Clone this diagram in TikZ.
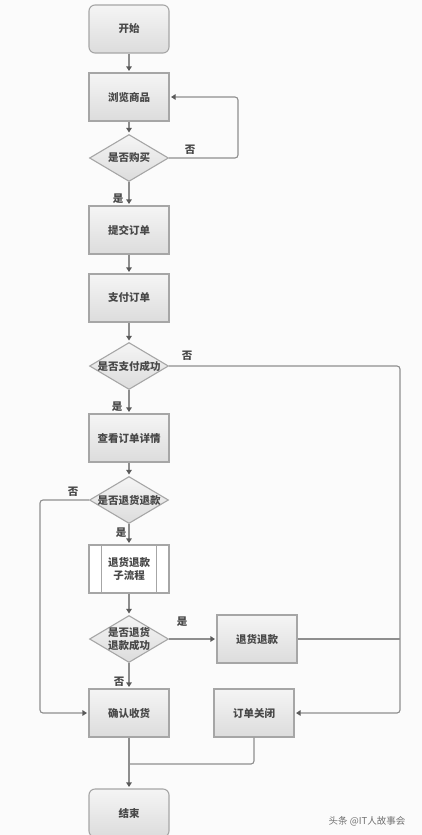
\documentclass[tikz,border=0pt]{standalone}
\usepackage{fontspec}
\setmainfont{Noto Sans CJK SC}
\usetikzlibrary{shapes.geometric,arrows.meta}
\definecolor{bg}{HTML}{FBFBFB}
\definecolor{boxline}{HTML}{A6A6A6}
\definecolor{boxtop}{HTML}{F5F5F5}
\definecolor{boxbot}{HTML}{DCDCDC}
\definecolor{linec}{HTML}{8E8E8E}
\definecolor{tipc}{HTML}{5A5A5A}
\definecolor{txt}{HTML}{484848}
\definecolor{wm}{HTML}{707070}
\begin{document}
\begin{tikzpicture}[x=1pt,y=-1pt,
  box/.style={draw=boxline, line width=1.1pt, top color=boxtop, bottom color=boxbot,
    minimum width=80pt, minimum height=48pt, inner sep=0pt,
    font=\fontsize{10.5}{13.5}\selectfont\bfseries, text=txt, align=center},
  term/.style={box, rounded corners=6pt},
  subp/.style={box, top color=white, bottom color=white},
  dia/.style={diamond, draw=boxline, line width=1.1pt, top color=boxtop, bottom color=boxbot,
    minimum width=79pt, minimum height=47pt, inner sep=0pt},
  dtxt/.style={font=\fontsize{10.5}{13.5}\selectfont\bfseries, text=txt, align=center, inner sep=0pt},
  flow/.style={draw=linec, line width=1.1pt, rounded corners=3pt, shorten >=1.5pt,
    -{Triangle[width=5.5pt,length=4.5pt,color=tipc]}},
  plain/.style={draw=linec, line width=1.1pt, rounded corners=3pt},
  lbl/.style={font=\fontsize{10.5}{12}\selectfont\bfseries, text=txt, inner sep=0pt}
]
\fill[bg] (0,0) rectangle (422,835);
\useasboundingbox (0,0) rectangle (422,835);

\node[term] (start)   at (129,29)  {开始};
\node[box]  (browse)  at (129,97)  {浏览商品};
\node[dia]  (d1)      at (129,158) {};
\node[dtxt] (d1t)     at (d1)      {是否购买};
\node[box]  (submit)  at (129,230) {提交订单};
\node[box]  (pay)     at (129,298) {支付订单};
\node[dia]  (d2)      at (129,366) {};
\node[dtxt] (d2t)     at (d2)      {是否支付成功};
\node[box]  (detail)  at (129,438) {查看订单详情};
\node[dia]  (d3)      at (129,500) {};
\node[dtxt] (d3t)     at (d3)      {是否退货退款};
\node[subp] (sub)     at (129,569) {退货退款\\子流程};
\draw[draw=boxline, line width=1.1pt] ([xshift=13pt]sub.north west) -- ([xshift=13pt]sub.south west);
\draw[draw=boxline, line width=1.1pt] ([xshift=-13pt]sub.north east) -- ([xshift=-13pt]sub.south east);
\node[dia]  (d4)      at (129,639) {};
\node[dtxt] (d4t)     at (d4)      {是否退货\\退款成功};
\node[box]  (refund)  at (257,639) {退货退款};
\node[box]  (confirm) at (129,713) {确认收货};
\node[box]  (close)   at (254,713) {订单关闭};
\node[term] (end)     at (129,813) {结束};

\coordinate (r1) at (238,158);
\coordinate (r2) at (400,366);
\coordinate (r3) at (400,639);
\coordinate (l1) at (40,500);
\coordinate (j)  at (129,764);

\draw[flow] (start) -- (browse);
\draw[flow] (browse) -- (d1);
\draw[flow] (d1.east) -- (r1) |- (browse.east);
\node[lbl] (n1) at (190,150) {否};
\draw[flow] (d1) -- (submit);
\node[lbl] (y1) at (118,199) {是};
\draw[flow] (submit) -- (pay);
\draw[flow] (pay) -- (d2);
\draw[flow] (d2.east) -- (r2) |- (close.east);
\node[lbl] (n2) at (187,356) {否};
\draw[flow] (d2) -- (detail);
\node[lbl] (y2) at (117,407) {是};
\draw[flow] (detail) -- (d3);
\draw[flow] (d3.west) -- (l1) |- (confirm.west);
\node[lbl] (n3) at (73,492) {否};
\draw[flow] (d3) -- (sub);
\node[lbl] (y3) at (121,533) {是};
\draw[flow] (sub) -- (d4);
\draw[flow] (d4.east) -- (refund.west);
\node[lbl] (y4) at (182,622) {是};
\draw[plain] (refund.east) -- (r3);
\draw[flow] (d4) -- (confirm);
\node[lbl] (n4) at (119,682) {否};
\draw[flow] (confirm) -- (end);
\draw[plain] (close.south) |- (j);

\node[font=\fontsize{9.5}{11}\selectfont, text=wm, inner sep=0pt] (wmk) at (367,821) {头条 @IT人故事会};
\end{tikzpicture}
\end{document}
